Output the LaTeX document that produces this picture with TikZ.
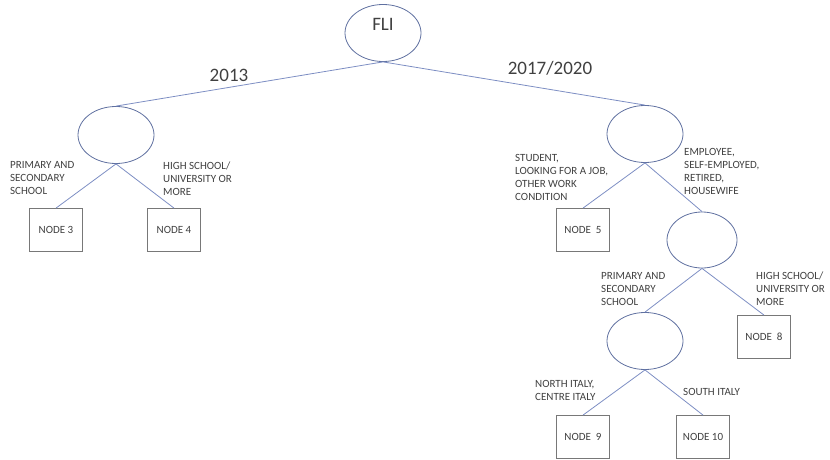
\documentclass[tikz,border=0pt]{standalone}
\usepackage{fontspec}
\setmainfont{Carlito}
\usetikzlibrary{shapes.geometric}
\definecolor{edgeblue}{RGB}{125,142,195}
\definecolor{ovalblue}{RGB}{95,112,160}
\definecolor{boxgray}{RGB}{120,120,120}
\definecolor{txtgray}{RGB}{64,64,64}
\begin{document}
\begin{tikzpicture}[x=1pt, y=-1pt, inner sep=0pt,
  split/.style={ellipse, draw=ovalblue, line width=0.8pt, minimum width=76pt, minimum height=57pt},
  leaf/.style={rectangle, draw=boxgray, line width=0.8pt, minimum width=53pt, minimum height=43pt, font=\fontsize{11}{13}\selectfont, text=txtgray},
  cond/.style={anchor=west, align=left, font=\fontsize{11}{13}\selectfont, text=txtgray},
  year/.style={font=\fontsize{19}{22}\selectfont, text=txtgray},
  branch/.style={draw=edgeblue, line width=0.8pt}]
\useasboundingbox (0,0) rectangle (830,460);
\node (fli) at (383,33) [split, font=\fontsize{19}{22}\selectfont, text=txtgray, text depth=18pt] {FLI};
\node (l) at (116,135) [split] {};
\node (r) at (645,134) [split] {};
\node (rr) at (702,240) [split, minimum width=70pt, minimum height=56pt] {};
\node (rrl) at (645,341) [split] {};
\node (n3) at (56,230) [leaf] {NODE 3};
\node (n4) at (174,230) [leaf] {NODE 4};
\node (n5) at (583,230) [leaf] {NODE\ \ 5};
\node (n8) at (764,337) [leaf] {NODE\ \ 8};
\node (n9) at (583,437) [leaf] {NODE\ \ 9};
\node (n10) at (703,437) [leaf] {NODE 10};
\draw[branch] (fli.south) -- (l.north);
\draw[branch] (fli.south) -- (r.north);
\draw[branch] (l.south) -- (n3.north);
\draw[branch] (l.south) -- (n4.north);
\draw[branch] (r.south) -- (n5.north);
\draw[branch] (r.south) -- (rr.north);
\draw[branch] (rr.south) -- (rrl.north);
\draw[branch] (rr.south) -- (n8.north);
\draw[branch] (rrl.south) -- (n9.north);
\draw[branch] (rrl.south) -- (n10.north);
\node (y13) at (229,75) [year] {2013};
\node (y17) at (550,68) [year] {2017/2020};
\node (c3) at (10,178) [cond] {PRIMARY AND\\SECONDARY\\SCHOOL};
\node (c4) at (163,179) [cond] {HIGH SCHOOL/\\UNIVERSITY OR\\MORE};
\node (c5) at (515,177) [cond] {STUDENT,\\LOOKING FOR A JOB,\\OTHER WORK\\CONDITION};
\node (cr) at (684,171) [cond] {EMPLOYEE,\\SELF-EMPLOYED,\\RETIRED,\\HOUSEWIFE};
\node (crl) at (601,289) [cond] {PRIMARY AND\\SECONDARY\\SCHOOL};
\node (c8) at (756,289) [cond] {HIGH SCHOOL/\\UNIVERSITY OR\\MORE};
\node (c9) at (535,390) [cond] {NORTH ITALY,\\CENTRE ITALY};
\node (c10) at (683,392) [cond] {SOUTH ITALY};
\end{tikzpicture}
\end{document}
